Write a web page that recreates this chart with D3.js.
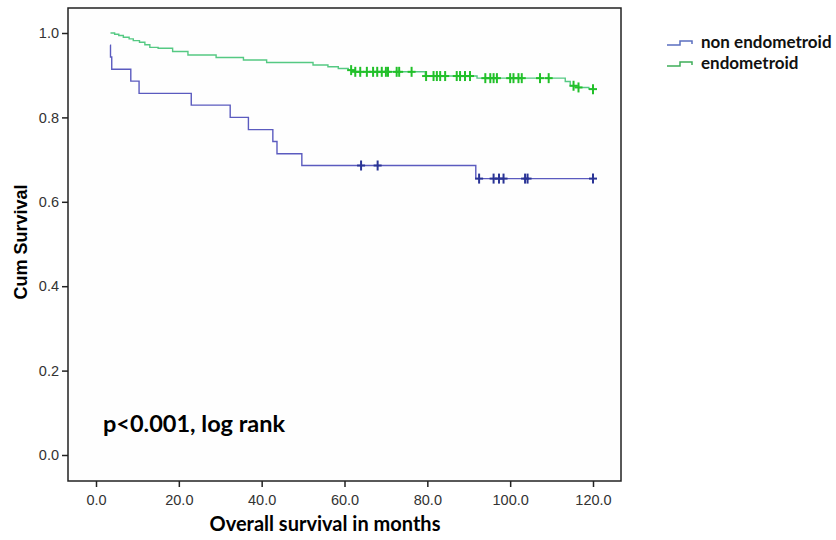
<!DOCTYPE html>
<html>
<head>
<meta charset="utf-8">
<script src="https://cdn.jsdelivr.net/npm/d3@7"></script>
<style>
  body { margin: 0; background: #fff; }
  svg { display: block; }
</style>
</head>
<body>
<svg id="chart" width="836" height="540"></svg>
<script>

// step points (time in months, cum survival after the drop)
var blueTimes = [3.4, 3.5, 3.8, 8.4, 10.4, 23, 32.4, 36.8, 42.7, 43.7, 49.7, 91.7];
var blueSurv  = [0.971, 0.943, 0.914, 0.886, 0.857, 0.829, 0.800, 0.771, 0.743, 0.714, 0.686, 0.655];
var blueCensored = [64, 68, 92.5, 96, 97.3, 98.4, 103.6, 104.2, 120];

var greenTimes = [3.5, 4.5, 5.5, 6.6, 8, 9, 10.5, 11.8, 13, 15, 18.5, 22.2, 29, 35.6, 41.2,
                  52.4, 56, 58.5, 60.9, 62.5, 79.5, 92, 113.3, 114.5, 116.5, 119];
var greenSurv  = [1.0, 0.997, 0.994, 0.990, 0.986, 0.982, 0.978, 0.972, 0.966, 0.964, 0.956,
                  0.948, 0.942, 0.936, 0.930, 0.924, 0.920, 0.916, 0.912, 0.908, 0.898, 0.893,
                  0.885, 0.875, 0.871, 0.867];
var greenCensored = [61.6, 62.6, 63.8, 65.4, 66.9, 67.9, 69, 70, 70.5, 72.6, 73.2, 76.2, 79.7,
                     81.5, 82.3, 83.1, 84.3, 87.1, 87.9, 89.1, 90.3, 94, 95.2, 96, 96.8, 100,
                     100.8, 102, 102.8, 107.2, 109.3, 115.3, 116.5, 120];

var xTicks = [0, 20, 40, 60, 80, 100, 120];
var yTicks = [0, 0.2, 0.4, 0.6, 0.8, 1.0];
var groups = ['non endometroid', 'endometroid'];

var svg = d3.select('#chart');

var x = d3.scaleLinear().domain([0, 120]).range([96, 593]);
var y = d3.scaleLinear().domain([0, 1]).range([455, 33]);

var frame = { left: 68, top: 8, right: 621, bottom: 481 };

/*====================================
Frame and axes
======================================*/

svg.append('rect')
  .attr('x', frame.left).attr('y', frame.top)
  .attr('width', frame.right - frame.left)
  .attr('height', frame.bottom - frame.top)
  .attr('fill', '#fefefe')
  .attr('stroke', '#222').attr('stroke-width', 1.5);

var yAxis = svg.append('g')
  .attr('transform', 'translate(' + frame.left + ',0)')
  .call(d3.axisLeft(y).tickValues(yTicks).tickFormat(d3.format('.1f')).tickSize(6).tickSizeOuter(0));

var xAxis = svg.append('g')
  .attr('transform', 'translate(0,' + frame.bottom + ')')
  .call(d3.axisBottom(x).tickValues(xTicks).tickFormat(d3.format('.1f')).tickSize(6).tickSizeOuter(0));

[xAxis, yAxis].forEach(function (g) {
  g.select('.domain').remove();
  g.selectAll('.tick line').attr('stroke', '#222').attr('stroke-width', 1.5);
  g.selectAll('.tick text')
    .attr('fill', '#333')
    .style('font-family', '"Liberation Sans", Arial, sans-serif')
    .style('font-size', '14.5px');
});
xAxis.selectAll('.tick text').attr('dy', '1.05em');

svg.append('text')
  .attr('transform', 'translate(27,242) rotate(-90)')
  .attr('text-anchor', 'middle')
  .style('font-family', '"Liberation Sans", Arial, sans-serif')
  .style('font-weight', 'bold').style('font-size', '18px')
  .text('Cum Survival');

svg.append('text')
  .attr('x', 325).attr('y', 531)
  .attr('text-anchor', 'middle')
  .style('font-family', 'Lato, sans-serif')
  .style('font-weight', 'bold').style('font-size', '20px')
  .text('Overall survival in months');

svg.append('text')
  .attr('x', 103).attr('y', 432)
  .style('font-family', 'Lato, sans-serif')
  .style('font-weight', 'bold').style('font-size', '23.5px')
  .text('p<0.001, log rank');

/*====================================
Survival curves
======================================*/

function survAt(times, surv, t) {
  var i = d3.bisectRight(times, t) - 1;
  return i < 0 ? surv[0] : surv[i];
}

function drawCurve(times, surv, censored, lineColor, markColor) {
  var pts = times.map(function (t, i) { return [t, surv[i]]; });
  pts.push([120, surv[surv.length - 1]]);

  var line = d3.line()
    .x(function (d) { return x(d[0]); })
    .y(function (d) { return y(d[1]); })
    .curve(d3.curveStepAfter);

  svg.append('path')
    .datum(pts)
    .attr('d', line)
    .attr('fill', 'none')
    .attr('stroke', lineColor)
    .attr('stroke-width', 1.4);

  var marks = svg.append('g').selectAll('g')
    .data(censored)
    .enter().append('g')
    .attr('transform', function (t) {
      return 'translate(' + x(t) + ',' + y(survAt(times, surv, t)) + ')';
    });
  marks.append('line').attr('x1', -4).attr('x2', 4)
    .attr('stroke', markColor).attr('stroke-width', 2);
  marks.append('line').attr('y1', -5).attr('y2', 5)
    .attr('stroke', markColor).attr('stroke-width', 2);
}

drawCurve(greenTimes, greenSurv, greenCensored, '#55c983', '#22c02a');
drawCurve(blueTimes, blueSurv, blueCensored, '#5b5bbf', '#2a3496');

/*====================================
Legend
======================================*/

var legendColors = ['#5b6fc0', '#3fae5a'];
var legend = svg.append('g').selectAll('g')
  .data(groups)
  .enter().append('g')
  .attr('transform', function (d, i) { return 'translate(667,' + (45 + i * 21) + ')'; });

legend.append('path')
  .attr('d', 'M0,0 H13 V-4 H25 V-1')
  .attr('fill', 'none')
  .attr('stroke', function (d, i) { return legendColors[i]; })
  .attr('stroke-width', 1.5);

legend.append('text')
  .attr('x', 34).attr('y', 3)
  .style('font-family', 'Lato, sans-serif')
  .style('font-weight', 'bold').style('font-size', '17px')
  .attr('fill', '#111')
  .text(function (d) { return d; });

</script>
</body>
</html>
